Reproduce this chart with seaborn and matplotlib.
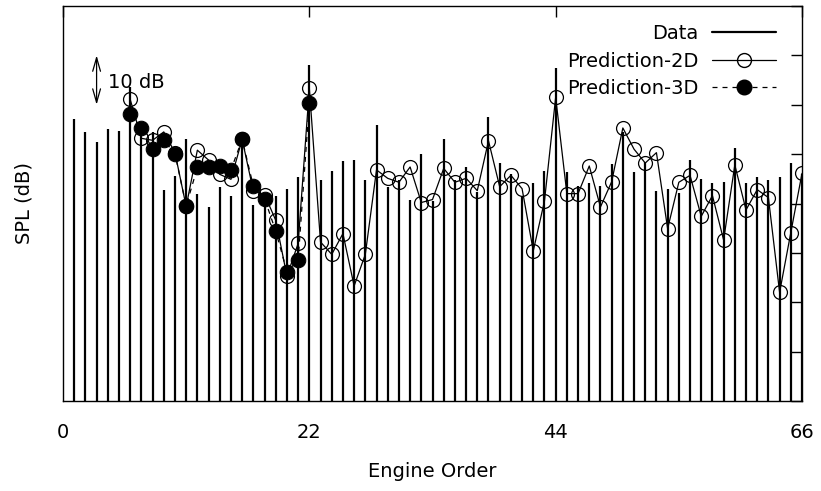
import numpy as np
import pandas as pd
import matplotlib
matplotlib.use("Agg")
import matplotlib.pyplot as plt
from matplotlib.lines import Line2D
import seaborn as sns

# Measured spectrum: SPL at each engine order (dB, relative scale)
orders = list(range(1, 67))
spl_data = [57.1, 54.4, 52.4, 55.0, 54.6, 63.5, 55.0, 54.5, 42.7, 45.5,
            53.0, 42.0, 39.3, 43.3, 41.5, 52.5, 39.7, 41.5, 41.5, 43.0,
            45.3, 68.0, 44.7, 46.6, 48.6, 48.9, 44.7, 56.0, 43.4, 44.7,
            40.7, 50.1, 40.5, 53.0, 44.7, 47.3, 42.4, 57.6, 48.3, 46.0,
            41.4, 44.2, 46.6, 67.4, 46.4, 43.5, 44.2, 43.5, 48.0, 54.5,
            46.4, 48.5, 42.5, 43.0, 42.2, 48.8, 44.9, 44.1, 44.4, 51.3,
            44.1, 45.3, 44.7, 45.4, 48.2, 46.0]

# 2D model prediction, orders 6..66
orders_2d = list(range(6, 67))
spl_2d = [61.1, 53.2, 52.8, 54.5, 50.3, 39.4, 50.8, 48.8, 45.9, 44.9,
          53.0, 42.5, 41.8, 36.6, 25.3, 31.9, 63.3, 32.2, 29.7, 33.9,
          23.3, 29.7, 46.8, 45.1, 44.3, 47.4, 40.2, 40.8, 47.1, 44.3,
          45.1, 42.6, 52.7, 43.4, 45.7, 43.0, 30.4, 40.5, 61.5, 42.0,
          42.0, 47.6, 39.3, 44.4, 55.3, 51.0, 48.2, 50.3, 34.9, 44.3,
          45.7, 37.4, 41.6, 32.6, 47.8, 38.7, 42.8, 41.2, 22.0, 34.1,
          46.1]

# 3D model prediction, orders 6..22
orders_3d = list(range(6, 23))
spl_3d = [58.1, 55.2, 51.0, 52.8, 50.1, 39.5, 47.3, 47.3, 47.6, 46.8,
          53.0, 43.5, 41.0, 34.4, 26.2, 28.5, 60.4]

x_ticks = [0, 22, 44, 66]

sns.set_style("white")
plt.rcParams["font.family"] = ["DejaVu Sans"]
plt.rcParams["font.size"] = 14
plt.rcParams["text.color"] = "black"
plt.rcParams["axes.labelcolor"] = "black"
plt.rcParams["xtick.color"] = "black"
plt.rcParams["ytick.color"] = "black"

fig = plt.figure(figsize=(8.21, 4.91), dpi=100)
ax = fig.add_axes([63 / 821, 90 / 491, 739 / 821, 395 / 491])

# Impulses for the measured data
ax.vlines(orders, 0, spl_data, colors="black", linewidth=1.6, zorder=2)

df2 = pd.DataFrame({"order": orders_2d, "spl": spl_2d})
df3 = pd.DataFrame({"order": orders_3d, "spl": spl_3d})

sns.lineplot(data=df2, x="order", y="spl", ax=ax, color="black", linewidth=0.9,
             marker="o", markersize=10, markerfacecolor="none",
             markeredgecolor="black", markeredgewidth=0.9, zorder=3)
sns.lineplot(data=df3, x="order", y="spl", ax=ax, color="black", linewidth=0.9,
             linestyle=(0, (4, 4)), marker="o", markersize=10.5,
             markerfacecolor="black", markeredgecolor="black", zorder=4)

ax.set_xlim(0, 66)
ax.set_ylim(0, 80)
ax.set_xticks(x_ticks)
ax.set_xticklabels([str(t) for t in x_ticks])
ax.set_yticks(np.arange(0, 81, 10))
ax.set_yticklabels([])
ax.tick_params(axis="both", direction="in", length=8, width=1.0,
               top=True, right=True, color="black", labelcolor="black",
               labelsize=14)
ax.tick_params(axis="x", pad=16)
for s in ax.spines.values():
    s.set_color("black")
    s.set_linewidth(1.0)

ax.set_xlabel("Engine Order", fontsize=14, labelpad=14, color="black")
ax.set_ylabel("SPL (dB)", fontsize=14, labelpad=18, color="black")

# 10 dB scale marker
ax.annotate("", xy=(3.0, 60), xytext=(3.0, 70),
            arrowprops=dict(arrowstyle="<->,head_length=0.7,head_width=0.2",
                            lw=0.9, color="black", shrinkA=0, shrinkB=0))
ax.text(4.05, 64.5, "10 dB", fontsize=14, ha="left", va="center",
        color="black")

handles = [
    Line2D([], [], color="black", linewidth=1.6),
    Line2D([], [], color="black", linewidth=0.9, marker="o", markersize=10,
           markerfacecolor="none", markeredgecolor="black"),
    Line2D([], [], color="black", linewidth=0.9, linestyle=(0, (4, 4)),
           marker="o", markersize=10.5, markerfacecolor="black"),
]
leg = ax.legend(handles, ["Data", "Prediction-2D", "Prediction-3D"],
                loc="upper right", bbox_to_anchor=(0.965, 0.954),
                markerfirst=False, frameon=False, fontsize=14,
                handlelength=3.3, handletextpad=0.7, labelspacing=0.43,
                borderpad=0, borderaxespad=0, numpoints=1)
for t in leg.get_texts():
    t.set_color("black")

fig.savefig("out.png", dpi=100)
